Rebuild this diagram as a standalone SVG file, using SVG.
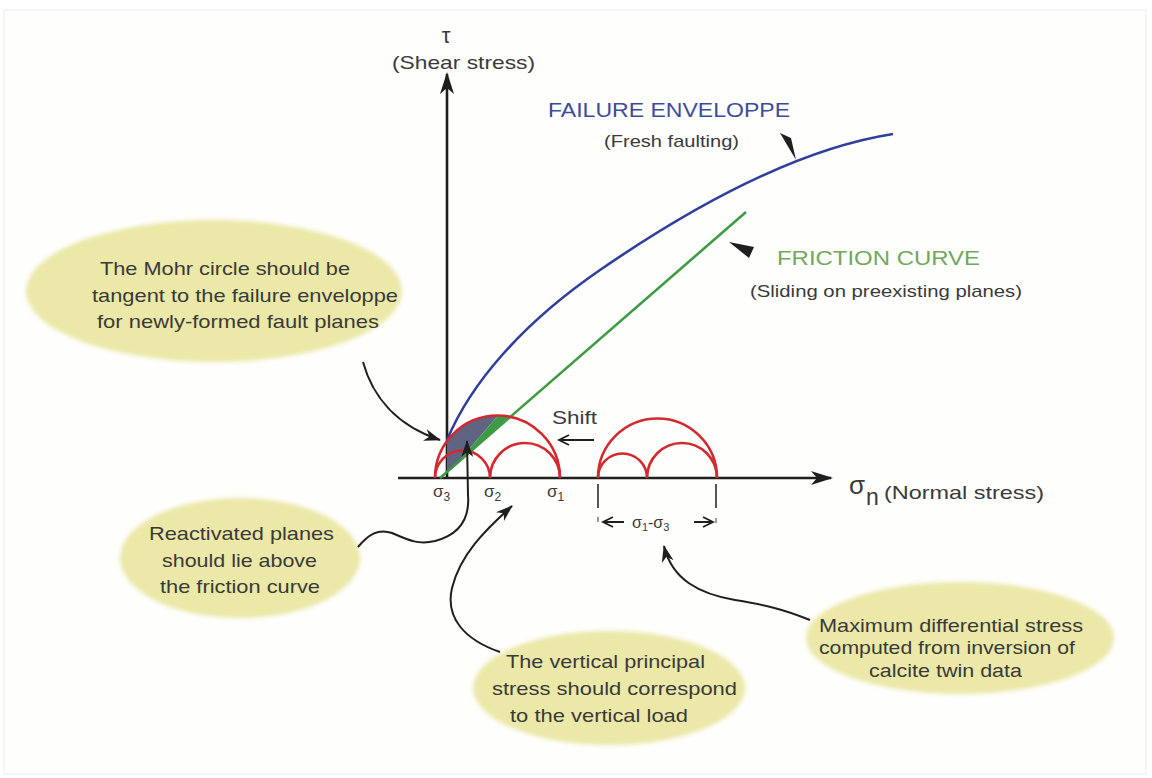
<svg xmlns="http://www.w3.org/2000/svg" width="1152" height="778" viewBox="0 0 1152 778">
<style>
.txt{font-family:"Liberation Sans",Arial,sans-serif;fill:#3a3a3a}
.el{font-size:19px}
.bubble{fill:#ebe8a8;filter:url(#soft)}
.axis{stroke:#1f1f1f;stroke-width:2.6;fill:none}
.conn{stroke:#1f1f1f;stroke-width:2;fill:none}
.mohr{stroke:#d22a2e;stroke-width:2.6;fill:none}
</style>
<defs>
<filter id="soft" x="-10%" y="-10%" width="120%" height="120%"><feGaussianBlur stdDeviation="2.2"/></filter>
<marker id="axhead" markerUnits="userSpaceOnUse" markerWidth="26" markerHeight="16" refX="20" refY="7" orient="auto"><path d="M0,0 L22,7 L0,14 L6,7 Z" fill="#1f1f1f"/></marker>
<marker id="barb" markerUnits="userSpaceOnUse" markerWidth="20" markerHeight="14" refX="16" refY="6" orient="auto"><path d="M0,0 L17,6 L0,12 L5,6 Z" fill="#1f1f1f"/></marker>
<marker id="chev" markerUnits="userSpaceOnUse" markerWidth="14" markerHeight="14" refX="11" refY="6" orient="auto"><path d="M1,1 L11,6 L1,11" fill="none" stroke="#1f1f1f" stroke-width="1.8"/></marker>
</defs>
<rect x="0" y="0" width="1152" height="778" fill="#ffffff"/>
<rect x="4" y="10" width="1142" height="764" fill="#fefefc" stroke="#ececec" stroke-width="1"/>

<g id="ellipse-mohr">
<ellipse class="bubble" cx="214" cy="291" rx="188" ry="71"/>
<text class="txt el" x="100" y="275" textLength="250" lengthAdjust="spacingAndGlyphs">The Mohr circle should be</text>
<text class="txt el" x="92" y="302" textLength="306" lengthAdjust="spacingAndGlyphs">tangent to the failure enveloppe</text>
<text class="txt el" x="97" y="328" textLength="282" lengthAdjust="spacingAndGlyphs">for newly-formed fault planes</text>
</g>
<g id="ellipse-reactivated">
<ellipse class="bubble" cx="240" cy="558" rx="120" ry="60"/>
<text class="txt el" x="149" y="540" textLength="185" lengthAdjust="spacingAndGlyphs">Reactivated planes</text>
<text class="txt el" x="162" y="567" textLength="155" lengthAdjust="spacingAndGlyphs">should lie above</text>
<text class="txt el" x="160" y="593" textLength="160" lengthAdjust="spacingAndGlyphs">the friction curve</text>
</g>
<g id="ellipse-vertical">
<ellipse class="bubble" cx="609" cy="688" rx="136" ry="57"/>
<text class="txt el" x="506" y="668" textLength="199" lengthAdjust="spacingAndGlyphs">The vertical principal</text>
<text class="txt el" x="492" y="695" textLength="245" lengthAdjust="spacingAndGlyphs">stress should correspond</text>
<text class="txt el" x="510" y="722" textLength="178" lengthAdjust="spacingAndGlyphs">to the vertical load</text>
</g>
<g id="ellipse-maximum">
<ellipse class="bubble" cx="960" cy="638" rx="154" ry="56"/>
<text class="txt el" x="819" y="632" textLength="264" lengthAdjust="spacingAndGlyphs">Maximum differential  stress</text>
<text class="txt el" x="819" y="654" textLength="256" lengthAdjust="spacingAndGlyphs">computed from inversion of</text>
<text class="txt el" x="869" y="677" textLength="153" lengthAdjust="spacingAndGlyphs">calcite twin data</text>
</g>

<g id="axes">
<line class="axis" x1="447" y1="479" x2="447" y2="74" marker-end="url(#axhead)"/>
<line class="axis" x1="398" y1="478" x2="831" y2="478" marker-end="url(#axhead)"/>
<text class="txt" x="446" y="43" font-size="22" text-anchor="middle">τ</text>
<text class="txt" x="392" y="69" font-size="19" textLength="143" lengthAdjust="spacingAndGlyphs">(Shear stress)</text>
<text class="txt" x="849" y="494" font-size="26">σ</text>
<text class="txt" x="866" y="505" font-size="23">n</text>
<text class="txt" x="884" y="499" font-size="19" textLength="160" lengthAdjust="spacingAndGlyphs">(Normal stress)</text>
</g>

<g id="shading">
<path d="M447,441 A62.5,62.5 0 0 1 498,415.5 L452,469 L447,472 Z" fill="#5e6482"/>
<path d="M452,469 L498,415.5 A62.5,62.5 0 0 1 509,416.6 Z" fill="#3e9a44"/>
</g>

<g id="failure-envelope">
<path d="M447,440 C470,385 520,325 600,270 S790,150 893,134" fill="none" stroke="#2e3f9c" stroke-width="2.6"/>
<text x="548" y="117" font-family="Liberation Sans, Arial, sans-serif" font-size="20" fill="#3d4c9a" textLength="242" lengthAdjust="spacingAndGlyphs">FAILURE ENVELOPPE</text>
<text class="txt" x="604" y="147" font-size="17" textLength="135" lengthAdjust="spacingAndGlyphs">(Fresh  faulting)</text>
<path d="M780,133 L791,138 L796,160 Z" fill="#1f1f1f"/>
</g>

<g id="friction-curve">
<line x1="440" y1="478" x2="746" y2="212" stroke="#3e9a44" stroke-width="2.6"/>
<text x="777" y="265" font-family="Liberation Sans, Arial, sans-serif" font-size="20" fill="#72a85c" textLength="203" lengthAdjust="spacingAndGlyphs">FRICTION CURVE</text>
<text class="txt" x="750" y="297" font-size="17" textLength="272" lengthAdjust="spacingAndGlyphs">(Sliding on preexisting planes)</text>
<path d="M729,242 L754,247 L749,258 Z" fill="#1f1f1f"/>
</g>

<g id="mohr-circles-left">
<path class="mohr" d="M435,478 A62.5,62.5 0 0 1 560,478"/>
<path class="mohr" d="M435,478 A27.5,27.5 0 0 1 490,478"/>
<path class="mohr" d="M490,478 A35,35 0 0 1 560,478"/>
</g>
<g id="mohr-circles-right">
<path class="mohr" d="M598,478 A59.5,59.5 0 0 1 717,478"/>
<path class="mohr" d="M598,478 A24.5,24.5 0 0 1 647,478"/>
<path class="mohr" d="M647,478 A35,35 0 0 1 717,478"/>
</g>

<g id="sigma-labels" class="txt">
<text x="433" y="497" font-size="17">σ<tspan font-size="12" dy="4">3</tspan></text>
<text x="484" y="497" font-size="17">σ<tspan font-size="12" dy="4">2</tspan></text>
<text x="547" y="497" font-size="17">σ<tspan font-size="12" dy="4">1</tspan></text>
<line x1="598" y1="484" x2="598" y2="508" stroke="#1f1f1f" stroke-width="1.5"/>
<line x1="716" y1="484" x2="716" y2="508" stroke="#1f1f1f" stroke-width="1.5"/>
<line x1="598" y1="517" x2="598" y2="522" stroke="#555" stroke-width="1.2"/>
<line x1="716" y1="518" x2="716" y2="523" stroke="#555" stroke-width="1.2"/>
<text x="632" y="528" font-size="16">σ<tspan font-size="11" dy="3">1</tspan><tspan dy="-3">-σ</tspan><tspan font-size="11" dy="3">3</tspan></text>
</g>

<g id="shift">
<text class="txt" x="552" y="424" font-size="18" textLength="45" lengthAdjust="spacingAndGlyphs">Shift</text>
</g>

<g id="connectors">
<line class="conn" x1="594" y1="440" x2="559" y2="440" marker-end="url(#chev)" stroke-width="1.8"/>
<line class="conn" x1="624" y1="522" x2="603" y2="522" marker-end="url(#chev)" stroke-width="1.4"/>
<line class="conn" x1="694" y1="522" x2="713" y2="522" marker-end="url(#chev)" stroke-width="1.4"/>
<path class="conn" d="M363,362 C372,395 395,425 440,440" marker-end="url(#barb)"/>
<path class="conn" d="M358,547 C368,535 378,528 392,533 C408,540 418,545 435,541 C458,535 470,520 468,495 L467,441" marker-end="url(#barb)"/>
<path class="conn" d="M500,652 C465,640 445,618 452,588 C460,555 485,530 512,506" marker-end="url(#barb)"/>
<path class="conn" d="M810,620 C780,608 760,604 735,600 C700,594 672,580 664,546" marker-end="url(#barb)"/>
</g>
</svg>
